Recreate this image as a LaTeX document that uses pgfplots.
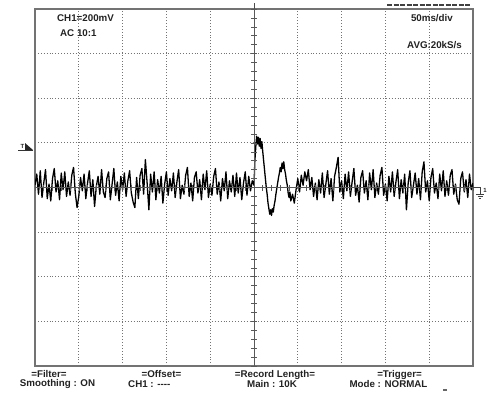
\documentclass[border=0pt]{standalone}
\usepackage{pgfplots}
\pgfplotsset{compat=1.18}
\usepackage{fontspec}
\setmainfont{Liberation Sans}
\definecolor{txt}{HTML}{222222}
\begin{document}
\begin{tikzpicture}[x=1bp,y=1bp]
\path[use as bounding box] (0,0) rectangle (489,392);
\begin{axis}[at={(35bp,26bp)}, anchor=south west, scale only axis,
  width=438bp, height=357bp,
  xmin=0, xmax=500, ymin=-800, ymax=800,
  xtick={50,100,...,450}, ytick={-600,-400,...,600},
  xticklabels={}, yticklabels={}, tick style={draw=none},
  grid=major,
  major grid style={black!55, line width=0.8bp, dash pattern=on 0.8bp off 2.1bp},
  axis line style={draw=black!55, line width=1.4bp}]
\addplot[black, line width=1.3bp, line join=round] coordinates {
(0,10)(2,60)(4,-30)(6,75)(8,-45)(10,20)(12,80)(14,-50)(16,15)(18,-60)
(20,40)(22,85)(24,-20)(26,30)(28,-55)(30,65)(32,-10)(34,70)(36,-40)(38,25)
(40,-35)(42,55)(44,90)(46,-25)(48,-90)(50,-40)(52,45)(54,-15)(56,60)(58,-50)
(60,20)(62,75)(64,-40)(66,35)(68,-85)(70,5)(72,50)(74,-30)(76,80)(78,-20)
(80,-45)(82,40)(84,70)(86,-55)(88,15)(90,85)(92,-35)(94,25)(96,-60)(98,50)
(100,-10)(102,65)(104,-40)(106,30)(108,75)(110,-25)(112,-65)(114,-90)(116,45)(118,-50)
(120,55)(122,85)(124,-30)(126,125)(128,20)(130,-100)(132,60)(134,-20)(136,70)(138,-55)
(140,35)(142,-25)(144,50)(146,-70)(148,15)(150,70)(152,-35)(154,40)(156,-15)(158,65)
(160,-45)(162,25)(164,80)(166,-50)(168,10)(170,-30)(172,55)(174,90)(176,-40)(178,20)
(180,-60)(182,45)(184,70)(186,-25)(188,35)(190,-55)(192,60)(194,-10)(196,75)(198,-45)
(200,15)(202,-35)(204,50)(206,85)(208,-30)(210,25)(212,-60)(214,40)(216,-15)(218,70)
(220,-50)(222,30)(224,-20)(226,55)(228,-40)(230,65)(232,-25)(234,45)(236,-55)(238,20)
(240,70)(242,-35)(244,50)(246,-15)(248,30)
(250,10)(251,120)(252,180)(253,230)(254,195)(255,225)(256,185)(257,220)(258,175)(259,205)
(260,160)(261,120)(262,80)(263,40)(264,0)(265,-30)(266,-70)(267,-95)(268,-120)(269,-100)
(270,-125)(271,-95)(272,-110)(273,-80)(274,-60)(275,-30)(276,-5)(277,20)(278,45)(279,65)
(280,90)(281,70)(282,110)(283,85)(284,115)(285,80)(286,60)(287,30)(288,10)(289,-25)
(290,-45)(291,-20)
(292,-60)(294,-30)(296,-70)(298,-10)(300,40)(302,-20)(304,55)(306,10)(308,70)(310,30)
(312,80)(314,-10)(316,45)(318,-40)(320,20)(322,-55)(324,35)(326,-25)(328,65)(330,-45)
(332,15)(334,75)(336,-30)(338,40)(340,-60)(342,50)(344,90)(346,135)(348,-20)(350,30)
(352,-50)(354,60)(356,-15)(358,70)(360,-40)(362,25)(364,85)(366,-35)(368,10)(370,-65)
(372,45)(374,75)(376,-25)(378,30)(380,-55)(382,65)(384,-10)(386,80)(388,-45)(390,20)
(392,-30)(394,55)(396,90)(398,-35)(400,15)(402,-60)(404,50)(406,-20)(408,70)(410,-40)
(412,25)(414,80)(416,-50)(418,35)(420,-25)(422,60)(424,-100)(426,20)(428,75)(430,-45)
(432,10)(434,65)(436,-30)(438,40)(440,-55)(442,70)(444,115)(446,-20)(448,30)(450,-60)
(452,45)(454,85)(456,-25)(458,20)(460,-50)(462,60)(464,-15)(466,75)(468,-40)(470,30)
(472,-35)(474,55)(476,80)(478,-30)(480,15)(482,-55)(484,-75)(486,40)(488,70)(490,-20)
(492,35)(494,-45)(496,60)(498,-10)(500,20)
};
\draw[black!65, line width=0.8bp] (axis cs:250,-800) -- (axis cs:250,800);
\draw[black!65, line width=0.8bp] (axis cs:0,0) -- (axis cs:500,0);
\end{axis}
% centre graticule ticks
\foreach \i in {-25,...,25} \draw[black!65, line width=0.6bp] ({254+\i*8.76},201.5) -- ++(0,6);
\foreach \i in {-20,...,20} \draw[black!65, line width=0.6bp] (251,{204.5+\i*8.925}) -- ++(6,0);
% trigger position marker
\draw[black!70, line width=1bp] (254,383) -- (254,389);
% cut-off header
\draw[black!75, line width=1.6bp, dash pattern=on 5bp off 1.5bp] (387,387) -- (470,387);
% trigger level marker
\node[font=\fontsize{6}{6}\selectfont\bfseries, text=txt, inner sep=0] at (22.5,246) {T};
\draw[black!80, line width=0.8bp] (18,242) -- (33,242);
\fill[black!85] (25,249) -- (25,242) -- (33,242) -- cycle;
% channel marker
\draw[black!75, line width=0.8bp] (473,204.5) -- (480,204.5) -- (480,198);
\draw[black!75, line width=0.8bp] (476,198) -- (484,198);
\draw[black!75, line width=0.8bp] (477.5,196) -- (482.5,196);
\draw[black!75, line width=0.8bp] (479,194) -- (481,194);
\node[font=\fontsize{6}{6}\selectfont\bfseries, text=txt, inner sep=0] at (485,202) {1};
% texts
\begin{scope}[every node/.style={inner sep=0, text=txt, font=\fontsize{9.8}{10}\selectfont\bfseries}]
\node[anchor=west] at (57,373.5) {CH1=200mV};
\node[anchor=west] at (60,358.5) {AC 10:1};
\node[anchor=east] at (453,374) {50ms/div};
\node[anchor=east] at (462,346.5) {AVG:20kS/s};
\node at (49,17.5) {=Filter=};
\node at (57.5,8) {Smoothing : ON};
\node at (161.5,17.5) {=Offset=};
\node[anchor=west] at (128,8) {CH1 : -{}-{}-{}-};
\node at (275,17.5) {=Record Length=};
\node at (272,8) {Main : 10K};
\node at (399.5,17.5) {=Trigger=};
\node at (388.5,8) {Mode : NORMAL};
\end{scope}
\fill[black!60] (443,1.5) rectangle (447,3.5);
\end{tikzpicture}
\end{document}
